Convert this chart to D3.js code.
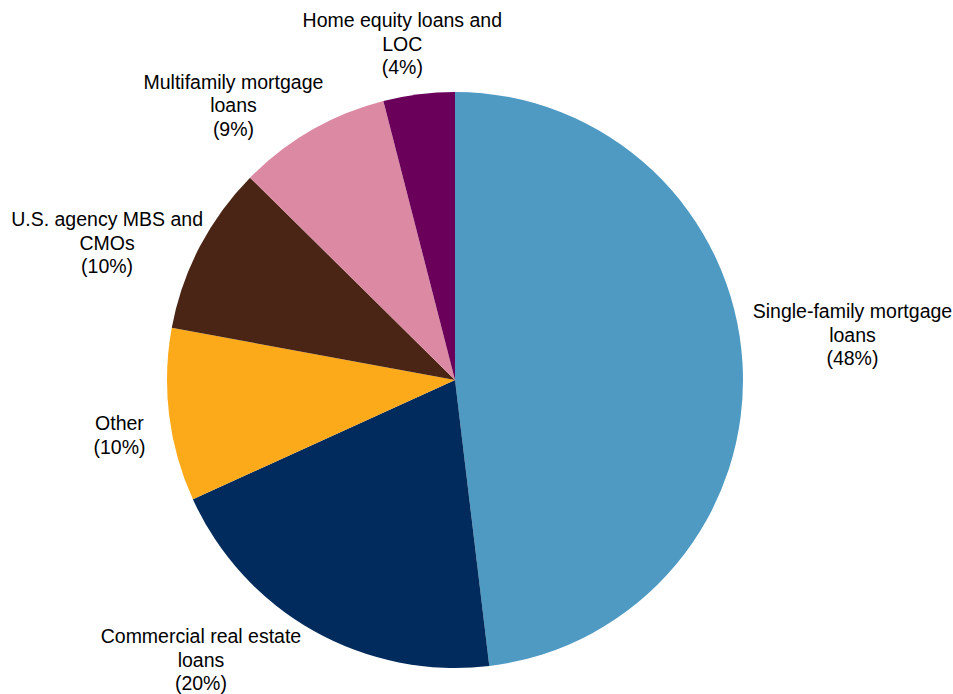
<!DOCTYPE html>
<html>
<head>
<meta charset="utf-8">
<script src="https://cdn.jsdelivr.net/npm/d3@7"></script>
<style>
  html, body { margin: 0; padding: 0; background: #fff; }
  svg { display: block; font-family: "Liberation Sans", Arial, sans-serif; }
</style>
</head>
<body>
<svg id="chart" width="953" height="694"></svg>
<script>
// slices, clockwise from 12 o'clock
const categories = [
  'Single-family mortgage loans',
  'Commercial real estate loans',
  'Other',
  'U.S. agency MBS and CMOs',
  'Multifamily mortgage loans',
  'Home equity loans and LOC'
];
const shares = [48.1, 20.1, 9.7, 9.5, 8.6, 4.0];
const pctLabels = ['48%', '20%', '10%', '10%', '9%', '4%'];
// how each label wraps
const labelLines = [
  ['Single-family mortgage', 'loans'],
  ['Commercial real estate', 'loans'],
  ['Other'],
  ['U.S. agency MBS and', 'CMOs'],
  ['Multifamily mortgage', 'loans'],
  ['Home equity loans and', 'LOC']
];
const colors = ['#4f9ac3', '#002b5c', '#fdaa1a', '#4a2515', '#dc8aa3', '#6a005a'];

const svg = d3.select('#chart');
const cx = 455, cy = 380, radius = 288;
const lineH = 23.5;

const pie = d3.pie().sort(null).value(d => d.value);
const arcs = pie(categories.map((c, i) => ({ name: c, value: shares[i], i })));
const arcGen = d3.arc().innerRadius(0).outerRadius(radius);

const chart = svg.append('g').attr('transform', `translate(${cx},${cy})`);

chart.selectAll('path')
  .data(arcs)
  .enter()
  .append('path')
  .attr('d', arcGen)
  .attr('fill', d => colors[d.data.i]);

// label placement: distance from centre along mid angle, plus an angle nudge
const labelDist = [400, 378, 340, 374, 353, 340];
const labelAngleShift = [-0.053, 0.225, -0.04, -0.105, -0.157, -0.03];

chart.selectAll('text.lbl')
  .data(arcs)
  .enter()
  .append('text')
  .attr('class', 'lbl')
  .attr('text-anchor', 'middle')
  .attr('font-size', 19.5)
  .attr('fill', '#000')
  .each(function (d) {
    const i = d.data.i;
    const a = (d.startAngle + d.endAngle) / 2 + labelAngleShift[i];
    const r = labelDist[i];
    const lines = labelLines[i].concat(['(' + pctLabels[i] + ')']);
    const x = r * Math.sin(a);
    const y = -r * Math.cos(a) - (lines.length - 1) * lineH / 2;
    const t = d3.select(this);
    lines.forEach((ln, k) => {
      t.append('tspan')
        .attr('x', x)
        .attr('y', y + k * lineH)
        .attr('dy', '0.35em')
        .text(ln);
    });
  });
</script>
</body>
</html>
